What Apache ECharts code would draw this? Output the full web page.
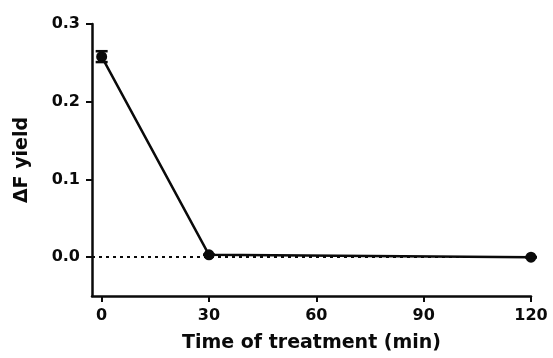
<!DOCTYPE html>
<html>
<head>
<meta charset="utf-8">
<script src="https://cdn.jsdelivr.net/npm/echarts@6/dist/echarts.min.js"></script>
<style>
  html, body { margin: 0; padding: 0; background: #fff; }
  #chart { width: 553px; height: 358px; }
</style>
</head>
<body>
<div id="chart"></div>
<script>
// time points (min) and ΔF yield
const times = [0, 30, 120]
const yieldValues = [0.258, 0.003, 0.0]
const yieldErrors = [0.007, 0, 0]
const xTicks = [0, 30, 60, 90, 120]
const yTicks = [0, 0.1, 0.2, 0.3]

const font = "'DejaVu Sans', sans-serif"
const ink = '#0a0a0a'

const chart = echarts.init(document.getElementById('chart'))

const lineData = times.map((t, i) => [t, yieldValues[i]])
const errData = times.map((t, i) => [t, yieldValues[i] - yieldErrors[i], yieldValues[i] + yieldErrors[i]])

const option = {
  backgroundColor: '#fff',
  animation: false,
  grid: { left: 92, right: 22, top: 24, bottom: 62 },
  xAxis: {
    type: 'value',
    min: -2.7,
    max: 120,
    name: 'Time of treatment (min)',
    nameLocation: 'middle',
    nameGap: 38,
    nameTextStyle: { color: ink, fontSize: 19, fontWeight: 'bold', fontFamily: font },
    axisLine: { onZero: false, lineStyle: { color: ink, width: 2.5 } },
    axisTick: { customValues: xTicks, length: 6, lineStyle: { color: ink, width: 2 } },
    axisLabel: {
      customValues: xTicks,
      margin: 12,
      color: ink,
      fontSize: 16,
      fontWeight: 'bold',
      fontFamily: font,
    },
    splitLine: { show: false },
  },
  yAxis: {
    type: 'value',
    min: -0.05,
    max: 0.3,
    name: '\u0394F yield',
    nameLocation: 'middle',
    nameGap: 60,
    nameTextStyle: { color: ink, fontSize: 19, fontWeight: 'bold', fontFamily: font },
    axisLine: { onZero: false, lineStyle: { color: ink, width: 2.5 } },
    axisTick: { customValues: yTicks, length: 6, lineStyle: { color: ink, width: 2 } },
    axisLabel: {
      customValues: yTicks,
      margin: 12,
      color: ink,
      fontSize: 16,
      fontWeight: 'bold',
      fontFamily: font,
      formatter: (v) => v.toFixed(1),
    },
    splitLine: { show: false },
  },
  series: [
    {
      type: 'line',
      data: lineData,
      symbol: 'circle',
      symbolSize: 11,
      lineStyle: { color: ink, width: 2.5 },
      itemStyle: { color: ink },
      z: 3,
      markLine: {
        silent: true,
        symbol: 'none',
        label: { show: false },
        lineStyle: { color: ink, type: [3, 4], width: 1.8 },
        data: [{ yAxis: 0 }],
      },
    },
    {
      type: 'custom',
      data: errData,
      z: 4,
      renderItem: (params, api) => {
        const lo = api.coord([api.value(0), api.value(1)])
        const hi = api.coord([api.value(0), api.value(2)])
        const half = 6
        return {
          type: 'group',
          children: [
            { type: 'line', shape: { x1: lo[0], y1: lo[1], x2: hi[0], y2: hi[1] }, style: { stroke: ink, lineWidth: 2.5 } },
            { type: 'line', shape: { x1: lo[0] - half, y1: lo[1], x2: lo[0] + half, y2: lo[1] }, style: { stroke: ink, lineWidth: 2.5 } },
            { type: 'line', shape: { x1: hi[0] - half, y1: hi[1], x2: hi[0] + half, y2: hi[1] }, style: { stroke: ink, lineWidth: 2.5 } },
          ],
        }
      },
    },
  ],
}

chart.setOption(option)
</script>
</body>
</html>
